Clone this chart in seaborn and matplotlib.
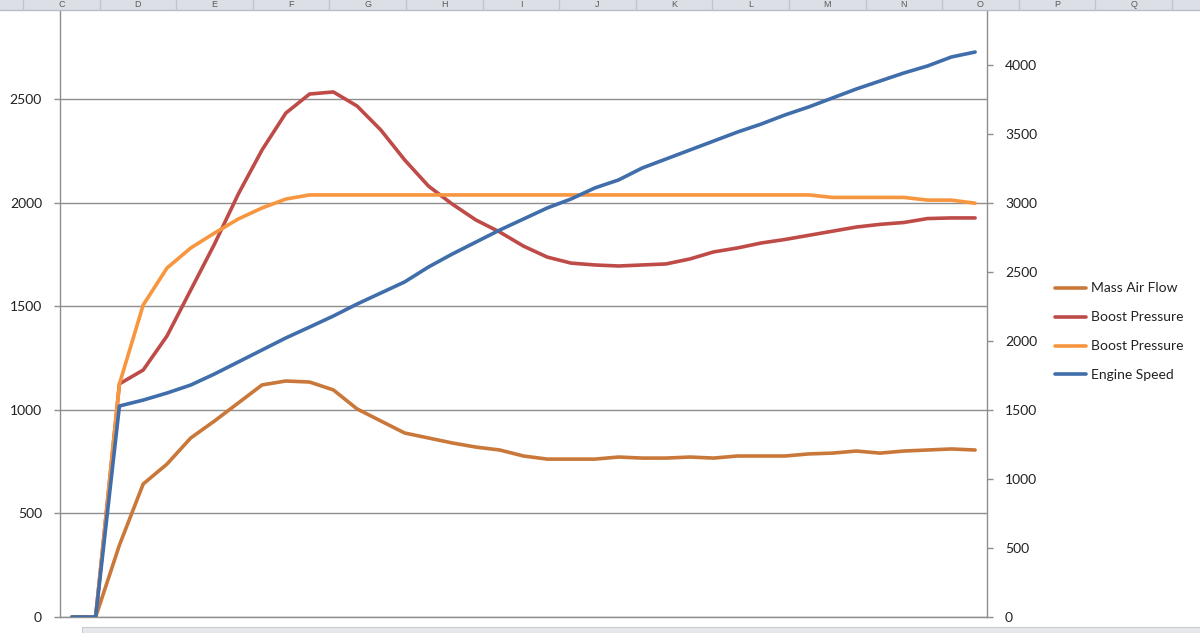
import numpy as np
import pandas as pd
import matplotlib
matplotlib.use("Agg")
import matplotlib.pyplot as plt
import seaborn as sns
from matplotlib.lines import Line2D
from matplotlib.patches import Rectangle

# ---- data ----
mass_air_flow = [0, 0, 347, 642, 738, 864, 946, 1033, 1120, 1139, 1134, 1096,
                 1004, 946, 888, 864, 840, 820, 806, 777, 762, 762,
                 762, 772, 767, 767, 772, 767, 777, 777, 777, 787,
                 791, 801, 791, 801, 806, 811, 806]
boost_pressure_red = [0, 0, 1125, 1192, 1356, 1578, 1800, 2041, 2254, 2432, 2524, 2534,
                      2466, 2350, 2206, 2080, 1993, 1916, 1858, 1790, 1737, 1708,
                      1699, 1694, 1699, 1704, 1728, 1762, 1781, 1805, 1822, 1842,
                      1862, 1882, 1895, 1904, 1923, 1926, 1926]
boost_pressure_orange = [0, 0, 1125, 1506, 1684, 1781, 1853, 1921, 1974, 2017, 2037,
                         2037, 2037, 2037, 2037, 2037, 2037, 2037, 2037, 2037, 2037,
                         2037, 2037, 2037, 2037, 2037, 2037, 2037, 2037, 2037, 2037,
                         2037, 2025, 2025, 2025, 2025, 2012, 2012, 1997]
engine_speed = [0, 0, 1529, 1572, 1623, 1681, 1761, 1848, 1935, 2022, 2101, 2181,
                2268, 2348, 2428, 2536, 2630, 2717, 2804, 2884, 2964, 3029,
                3109, 3167, 3254, 3319, 3384, 3449, 3514, 3572, 3638, 3696,
                3761, 3826, 3884, 3942, 3993, 4058, 4094]
series_names = ["Mass Air Flow", "Boost Pressure", "Boost Pressure", "Engine Speed"]
left_ticks = [0, 500, 1000, 1500, 2000, 2500]
right_ticks = [0, 500, 1000, 1500, 2000, 2500, 3000, 3500, 4000]
column_letters = list("CDEFGHIJKLMNOPQ")

# ---- style ----
sns.set_style("white")
plt.rcParams['font.family'] = ['Lato', 'DejaVu Sans']

C_MAF = "#C9783A"
C_RED = "#BE4B48"
C_ORG = "#F7963F"
C_BLUE = "#3F6EAA"
GRID = "#8E8E8E"
TXT = "#222222"

W, H = 1200, 633
fig = plt.figure(figsize=(12, 6.33), dpi=100)

x0, x1 = 60, 987
y_bottom = 617
ax = fig.add_axes([x0 / W, (H - y_bottom) / H, (x1 - x0) / W, y_bottom / H])
ax2 = ax.twinx()

n = len(mass_air_flow)
df = pd.DataFrame({
    "idx": np.arange(n),
    "maf": mass_air_flow,
    "red": boost_pressure_red,
    "org": boost_pressure_orange,
    "eng": engine_speed,
})

lw = 2.6
sns.lineplot(data=df, x="idx", y="maf", ax=ax, color=C_MAF, linewidth=lw, zorder=3)
sns.lineplot(data=df, x="idx", y="red", ax=ax, color=C_RED, linewidth=lw, zorder=4)
sns.lineplot(data=df, x="idx", y="org", ax=ax, color=C_ORG, linewidth=lw, zorder=5)
sns.lineplot(data=df, x="idx", y="eng", ax=ax2, color=C_BLUE, linewidth=lw, zorder=6)

# scales: 2500 at y=99 px, 4000 at y=65 px
left_max = 2500 * y_bottom / (y_bottom - 99)
right_max = 4000 * y_bottom / (y_bottom - 65)
ax.set_ylim(0, left_max)
ax2.set_ylim(0, right_max)
ax.set_xlim(-0.5, n - 0.5)

ax.set_yticks(left_ticks)
ax.set_yticklabels([str(t) for t in left_ticks])
ax2.set_yticks(right_ticks)
ax2.set_yticklabels([str(t) for t in right_ticks])
ax.set_xticks(np.arange(-0.5, n, 1.0))
ax.set_xticklabels([])

ax.yaxis.grid(True, color=GRID, linewidth=1.0)
ax.xaxis.grid(False)
ax.set_axisbelow(True)
ax.set_xlabel("")
ax.set_ylabel("")
ax2.set_ylabel("")

for a in (ax, ax2):
    for s in a.spines.values():
        s.set_color(GRID)
        s.set_linewidth(1.0)
    a.spines["top"].set_visible(False)
ax.spines["right"].set_visible(False)
ax2.spines["left"].set_visible(False)
ax2.spines["bottom"].set_visible(False)

ax.tick_params(axis="y", length=4, width=1, color=GRID, pad=9, labelsize=10, labelcolor=TXT, direction="out")
ax.tick_params(axis="x", length=5, width=1, color=GRID, direction="out")
ax2.tick_params(axis="y", length=4, width=1, color=GRID, pad=9, labelsize=10, labelcolor=TXT, direction="out")
ax.patch.set_alpha(0)

# legend
handles = [Line2D([], [], color=c, linewidth=lw) for c in (C_MAF, C_RED, C_ORG, C_BLUE)]
fig.legend(handles, series_names, loc="upper left",
           bbox_to_anchor=(1042 / W, 1 - 270 / H), frameon=False,
           fontsize=10, handlelength=2.3, handletextpad=0.35, labelspacing=1.22,
           labelcolor=TXT)

# Excel column header band at the top
band = 9.5
fig.patches.append(Rectangle((0, 1 - band / H), 1, band / H, transform=fig.transFigure,
                             facecolor="#DCE0E6", edgecolor="none", zorder=10))
fig.lines.append(Line2D([0, 1], [1 - band / H, 1 - band / H], transform=fig.transFigure,
                        color="#B8BEC6", linewidth=1, zorder=11))
col_w = 76.6
first_edge = 23
for k, letter in enumerate(column_letters):
    cx = first_edge + col_w * (k + 0.5)
    fig.text(cx / W, 1 - 4.8 / H, letter, ha="center", va="center", fontsize=6.5,
             color="#5A5A5A", zorder=12, family=["Liberation Sans", "DejaVu Sans"])
for k in range(len(column_letters) + 1):
    ex = first_edge + col_w * k
    fig.lines.append(Line2D([ex / W, ex / W], [1 - band / H, 1], transform=fig.transFigure,
                            color="#C0C5CC", linewidth=1, zorder=11))

# bottom sheet-bar strip
fig.patches.append(Rectangle((82 / W, 0), 1 - 82 / W, 6 / H, transform=fig.transFigure,
                             facecolor="#E6E8EC", edgecolor="#C8CCD2", linewidth=0.8, zorder=10))

fig.savefig("out.png", dpi=100)
